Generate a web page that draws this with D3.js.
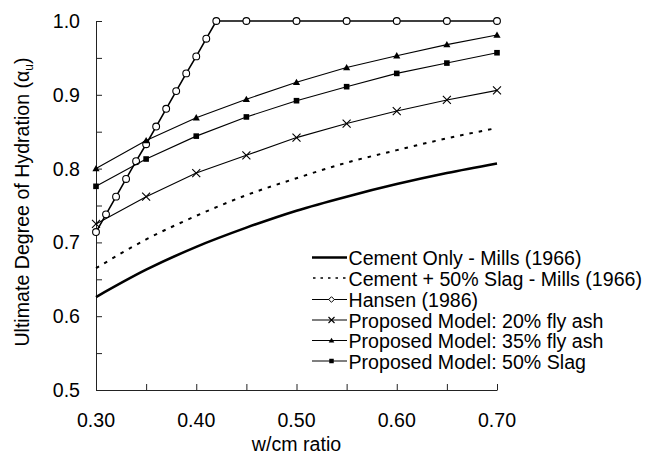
<!DOCTYPE html>
<html><head><meta charset="utf-8">
<script src="https://cdn.jsdelivr.net/npm/d3@7/dist/d3.min.js"></script>
<style>body{margin:0;background:#fff}svg{display:block}text{font-family:"Liberation Sans",Arial,sans-serif;fill:#000}</style>
</head><body>
<script>
// ---- data ----
const wcm = [0.30,0.35,0.40,0.45,0.50,0.55,0.60,0.65,0.70];
const cementOnly = [0.626,0.663,0.694,0.720,0.743,0.762,0.779,0.794,0.807];
const cementSlag = [0.665,0.704,0.736,0.764,0.787,0.808,0.825,0.841,0.855];
const hansenX = [0.30,0.31,0.32,0.33,0.34,0.35,0.36,0.37,0.38,0.39,0.40,0.41,0.42,0.45,0.50,0.55,0.60,0.65,0.70];
const hansenY = [0.714,0.738,0.762,0.786,0.810,0.833,0.857,0.881,0.905,0.929,0.952,0.976,1.0,1.0,1.0,1.0,1.0,1.0,1.0];
const fly20 = [0.725,0.762,0.794,0.818,0.842,0.861,0.878,0.893,0.906];
const fly35 = [0.800,0.838,0.869,0.894,0.917,0.937,0.953,0.968,0.981];
const slag50 = [0.776,0.813,0.844,0.870,0.892,0.911,0.929,0.943,0.957];
const xTicks = [0.30,0.40,0.50,0.60,0.70];
const yTicks = [0.5,0.6,0.7,0.8,0.9,1.0];
const legendLabels = ["Cement Only - Mills (1966)","Cement + 50% Slag - Mills (1966)","Hansen (1986)","Proposed Model: 20% fly ash","Proposed Model: 35% fly ash","Proposed Model: 50% Slag"];

const W=654,H=455, FS=19.6;
const svg=d3.select("body").append("svg").attr("width",W).attr("height",H);
const x=d3.scaleLinear().domain([0.30,0.70]).range([96,497]);
const y=d3.scaleLinear().domain([0.5,1.0]).range([390,21]);

// axes
const minorX=d3.range(0.30,0.7001,0.05);
const minorY=d3.range(0.5,1.0001,0.05);
const xAxis=d3.axisBottom(x).tickValues(minorX).tickSizeInner(-6).tickSizeOuter(0).tickFormat("");
const yAxis=d3.axisLeft(y).tickValues(minorY).tickSizeInner(-6).tickSizeOuter(0).tickFormat("");
const gx=svg.append("g").attr("transform","translate(0,390)").call(xAxis);
const gy=svg.append("g").attr("transform","translate(96,0)").call(yAxis);
[gx,gy].forEach(g=>{g.selectAll("path,line").attr("stroke","#222").attr("stroke-width",1);});

svg.append("g").selectAll("text").data(xTicks).join("text")
  .attr("x",d=>x(d)).attr("y",427).attr("text-anchor","middle").attr("font-size",FS)
  .text(d=>d3.format(".2f")(d));
svg.append("g").selectAll("text").data(yTicks).join("text")
  .attr("x",80).attr("y",d=>y(d)+7).attr("text-anchor","end").attr("font-size",FS)
  .text(d=>d3.format(".1f")(d));

svg.append("text").attr("x",296.5).attr("y",451).attr("text-anchor","middle").attr("font-size",FS).text("w/cm ratio");
const yt=svg.append("text").attr("transform","translate(28.5,202) rotate(-90)").attr("text-anchor","middle").attr("font-size",FS);
yt.append("tspan").text("Ultimate Degree of Hydration (α");
yt.append("tspan").attr("font-size",12).attr("dy",4).text("u");
yt.append("tspan").attr("dy",-4).text(")");

const line=d3.line().x(d=>x(d[0])).y(d=>y(d[1]));
const zip=(a,b)=>a.map((v,i)=>[v,b[i]]);

svg.append("path").datum(zip(wcm,cementOnly)).attr("d",line.curve(d3.curveMonotoneX)).attr("fill","none").attr("stroke","#000").attr("stroke-width",2.6);
svg.append("path").datum(zip(wcm,cementSlag)).attr("d",line.curve(d3.curveMonotoneX)).attr("fill","none").attr("stroke","#000").attr("stroke-width",2).attr("stroke-dasharray","3.5,6");
line.curve(d3.curveLinear);
const series=[
  {data:zip(hansenX,hansenY),m:"circ",w:1.6},
  {data:zip(wcm,fly20),m:"x",w:1.1},
  {data:zip(wcm,fly35),m:"tri",w:1.1},
  {data:zip(wcm,slag50),m:"sq",w:1.1}];

function marker(g,type,cx,cy,s){
  if(type==="circ"){
    g.append("circle").attr("cx",cx).attr("cy",cy).attr("r",s).attr("fill","#fff").attr("stroke","#000").attr("stroke-width",1.1);
  } else if(type==="diamond"){
    g.append("path").attr("d",`M${cx},${cy-s}L${cx+s},${cy}L${cx},${cy+s}L${cx-s},${cy}Z`).attr("fill","#fff").attr("stroke","#000").attr("stroke-width",1);
  } else if(type==="x"){
    g.append("path").attr("d",`M${cx-s},${cy-s}L${cx+s},${cy+s}M${cx-s},${cy+s}L${cx+s},${cy-s}`).attr("stroke","#000").attr("stroke-width",1.1);
  } else if(type==="tri"){
    g.append("path").attr("d",`M${cx},${cy-s}L${cx+s},${cy+s*0.75}L${cx-s},${cy+s*0.75}Z`).attr("fill","#000");
  } else if(type==="sq"){
    g.append("rect").attr("x",cx-s*0.8).attr("y",cy-s*0.8).attr("width",s*1.6).attr("height",s*1.6).attr("fill","#000");
  }
}
const msize={circ:3.4,x:4,tri:3.6,sq:3.5};
series.forEach(s=>{
  svg.append("path").datum(s.data).attr("d",line).attr("fill","none").attr("stroke","#000").attr("stroke-width",s.w);
  const g=svg.append("g");
  s.data.forEach(d=>marker(g,s.m,x(d[0]),y(d[1]),msize[s.m]));
});

// legend
const lg=svg.append("g");
const rowY=[257.5,278,299.5,320,340.5,361];
const types=[null,null,"diamond","x","tri","sq"];
legendLabels.forEach((t,i)=>{
  const yy=rowY[i];
  const l=lg.append("line").attr("x1",312).attr("x2",347).attr("y1",yy).attr("y2",yy).attr("stroke","#000");
  if(i===0) l.attr("stroke-width",2.6);
  else if(i===1) l.attr("stroke-width",1.6).attr("stroke-dasharray","2.5,5").attr("x1",313);
  else l.attr("stroke-width",1.1);
  if(types[i]) marker(lg,types[i],331.5,yy,types[i]==="x"?3:2.8);
  lg.append("text").attr("x",348.5).attr("y",yy+7.5).attr("font-size",FS).text(t);
});
</script>
</body></html>
